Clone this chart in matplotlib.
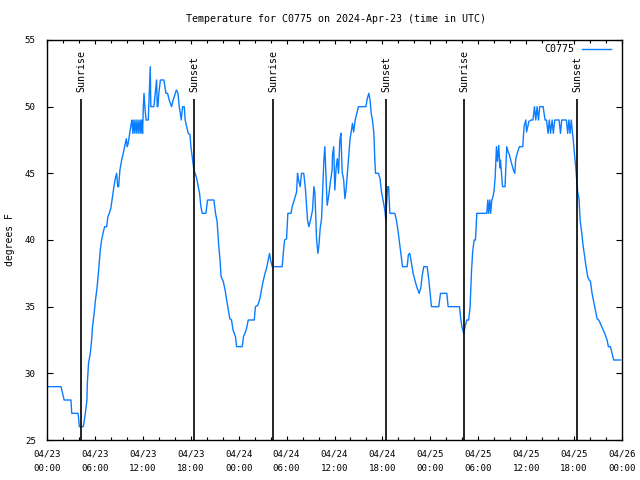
import matplotlib
matplotlib.use("Agg")
import matplotlib.pyplot as plt
from matplotlib.ticker import FixedLocator, MultipleLocator

# hours since 2024-04-23 00:00 UTC, temperature in F
hours = [
    0, 1.75, 2.15, 3.0, 3.1, 3.9, 4.05, 4.55, 4.8, 5.0, 5.05, 5.2, 5.42, 5.59, 5.7,
    5.92, 6.05, 6.26, 6.42, 6.55, 6.67, 6.84, 7.05, 7.22, 7.47, 7.63, 7.8, 8.0, 8.2,
    8.38, 8.55, 8.72, 8.85, 8.97, 9.13, 9.35, 9.51, 9.72, 9.93, 10.05, 10.15, 10.35,
    10.55, 10.65, 10.75, 10.9, 11.0, 11.15, 11.25, 11.4, 11.5, 11.65, 11.75, 11.85,
    11.97, 12.06, 12.15, 12.25, 12.4, 12.68, 12.8, 12.93, 13.0, 13.39, 13.55, 13.72,
    13.8, 13.89, 14.0, 14.2, 14.64, 14.89, 15.1, 15.3, 15.6, 15.8, 16.2, 16.4, 16.56,
    16.7, 16.8, 16.98, 17.19, 17.3, 17.45, 17.69, 17.9, 18.02, 18.23, 18.4, 18.6,
    18.75, 18.94, 19.1, 19.27, 19.44, 19.9, 20.1, 20.9, 21.1, 21.3, 21.5, 21.65, 21.8,
    22.07, 22.3, 22.5, 22.7, 22.9, 23.1, 23.3, 23.6, 23.74, 24.45, 24.6, 24.78, 25.0,
    25.2, 25.95, 26.1, 26.4, 26.66, 26.85, 27.06, 27.3, 27.5, 27.7, 27.87, 28.0, 28.2,
    29.45, 29.6, 29.75, 30.0, 30.16, 30.55, 30.7, 30.96, 31.25, 31.37, 31.5, 31.7,
    31.87, 32.15, 32.37, 32.62, 32.79, 33.0, 33.25, 33.42, 33.55, 33.75, 33.92, 34.05,
    34.21, 34.38, 34.54, 34.67, 34.79, 34.92, 35.08, 35.3, 35.45, 35.63, 35.7, 35.75,
    35.9, 36.04, 36.2, 36.35, 36.5, 36.67, 36.8, 36.96, 37.15, 37.3, 37.45, 37.6,
    37.76, 37.95, 38.13, 38.25, 38.4, 38.59, 38.75, 39.0, 39.93, 40.1, 40.3, 40.45,
    40.6, 40.75, 40.93, 41.05, 41.14, 41.51, 41.7, 41.89, 42.1, 42.3, 42.43, 42.5,
    42.65, 42.78, 42.93, 43.55, 43.75, 43.97, 44.2, 44.39, 44.52, 45.1, 45.25, 45.43,
    45.6, 45.85, 46.1, 46.35, 46.6, 46.8, 47.0, 47.18, 47.6, 47.81, 47.98, 48.14,
    49.06, 49.27, 50.06, 50.23, 51.65, 51.81, 51.95, 52.19, 52.35, 52.57, 52.8, 52.98,
    53.15, 53.3, 53.48, 53.65, 53.82, 55.07, 55.2, 55.3, 55.45, 55.55, 55.7, 55.85,
    55.99, 56.12, 56.28, 56.4, 56.57, 56.7, 56.78, 56.91, 57.04, 57.35, 57.57, 57.75,
    57.9, 58.1, 58.4, 58.57, 58.7, 58.88, 59.15, 59.57, 59.74, 59.95, 60.05, 60.2,
    60.35, 60.62, 60.85, 61.04, 61.2, 61.37, 61.54, 61.7, 62.12, 62.37, 62.55, 62.74,
    62.9, 63.05, 63.25, 63.4, 63.58, 64.12, 64.3, 64.45, 65.04, 65.2, 65.35, 65.5,
    65.65, 65.8, 65.9, 66.04, 66.2, 66.33, 66.45, 66.62, 66.75, 66.95, 67.12, 67.33,
    67.5, 67.71, 67.88, 68.05, 68.25, 68.45, 68.67, 68.88, 69.08, 69.25, 69.46, 69.84,
    70.13, 70.3, 70.55, 70.75, 70.96, 71.8,
]
temps = [
    29, 29, 28, 28, 27, 27, 26, 26, 27, 28, 29.25, 30.75, 31.5, 32.5, 33.5,
    34.6, 35.4, 36.4, 37.4, 38.4, 39.25, 40, 40.6, 41, 41, 41.75, 42, 42.4, 43.25,
    44, 44.6, 45, 44, 44, 45.25, 46, 46.4, 47, 47.6, 47, 47.2, 48,
    48.75, 49, 48, 49, 48, 49, 48, 49, 48, 49, 48, 49,
    48, 50, 51, 50, 49, 49, 51, 53, 50, 50, 51, 52,
    50, 50, 51, 52, 52, 51, 51, 50.5, 50, 50.5, 51.25, 51, 50,
    49.5, 49, 50, 50, 49, 48.6, 48, 47.9, 47, 46, 45.25, 44.9,
    44.6, 44, 43.5, 42.5, 42, 42, 43, 43, 42, 41.4, 39.6, 38.6, 37.25,
    36.9, 36.25, 35.5, 34.75, 34.1, 34, 33.25, 32.75, 32, 32, 32.75, 33, 33.4,
    34, 34, 35, 35.1, 35.6, 36.25, 36.9, 37.5, 37.9, 38.5, 39, 38.5, 38,
    38, 39.1, 40, 40.1, 42, 42, 42.5, 43, 43.6, 45, 44.5, 44,
    45, 45, 43.75, 41.5, 41, 41.5, 42.25, 44, 43.5, 40.1, 39, 39.6,
    40.9, 41.6, 44, 46, 47, 45.1, 42.6, 43.4, 44.2, 45, 45.25, 46.4,
    47, 43.75, 45.4, 46.1, 45, 47.5, 48, 45.1, 44.5, 43.1, 43.75, 44.9,
    46.1, 47.6, 48.25, 48.75, 48.1, 49, 49.4, 50, 50, 50.6, 51, 50.5,
    49.5, 49, 48, 46, 45, 45, 44.6, 43.6, 42.9, 42.25, 41.5, 42.5,
    44, 44, 42, 42, 41.5, 40.6, 39.5, 38.6, 38, 38, 38.9, 39,
    38.4, 37.5, 36.9, 36.4, 36, 36.4, 37.4, 38, 38, 37, 36, 35,
    35, 36, 36, 35, 35, 34.1, 33.5, 33, 33.5, 34, 34, 35,
    37.6, 39.1, 40, 40, 42, 42, 43, 42, 43, 42, 43, 43.25,
    43.75, 44.75, 47, 45.9, 47.1, 45.4, 46, 45, 44, 44, 47, 46.6,
    46.4, 45.9, 45.25, 45, 46.1, 46.5, 47, 47, 48.5, 49, 48.1, 48.5,
    48.9, 49, 49, 50, 49, 50, 49, 50, 50, 49, 49, 48,
    49, 48, 49, 48, 49, 49, 48, 49, 49, 48, 49, 48,
    49, 48, 47.5, 46.5, 45.5, 44.5, 43.6, 43.1, 41.5, 40.6, 39.6, 38.75,
    38, 37.25, 37, 36.9, 36, 35.4, 34.75, 34.1, 34, 33.8, 33.5, 33,
    32.5, 32, 32, 31.5, 31, 31,
]

sun_hours = [4.3, 18.45, 28.3, 42.47, 52.24, 66.4]
sun_labels = ["Sunrise", "Sunset", "Sunrise", "Sunset", "Sunrise", "Sunset"]

tick_hours = [0, 6, 12, 18, 24, 30, 36, 42, 48, 54, 60, 66, 72]
tick_labels = ["04/23\n00:00", "04/23\n06:00", "04/23\n12:00", "04/23\n18:00",
               "04/24\n00:00", "04/24\n06:00", "04/24\n12:00", "04/24\n18:00",
               "04/25\n00:00", "04/25\n06:00", "04/25\n12:00", "04/25\n18:00",
               "04/26\n00:00"]
y_ticks = [25, 30, 35, 40, 45, 50, 55]

plt.rcParams["font.family"] = ["DejaVu Sans Mono"]

fig = plt.figure(figsize=(6.4, 4.8), dpi=100)
ax = fig.add_axes([47 / 640, 40 / 480, 575 / 640, 400 / 480])

ax.plot(hours, temps, color="#0a7cff", lw=1.0, label="C0775")

ax.vlines(sun_hours, 25, 50.6, color="black", lw=1.2)
for h, lab in zip(sun_hours, sun_labels):
    ax.text(h, 51.1, lab, rotation=90, ha="center", va="bottom", fontsize=7.2)

ax.set_xlim(0, 72)
ax.set_ylim(25, 55)
ax.xaxis.set_major_locator(FixedLocator(tick_hours))
ax.set_xticklabels(tick_labels, linespacing=1.75)
ax.xaxis.set_minor_locator(MultipleLocator(2))
ax.set_yticks(y_ticks)

ax.tick_params(axis="both", which="major", direction="in", top=True, right=True,
               labelsize=6.6, width=0.8)
ax.tick_params(axis="x", which="major", length=3, pad=7)
ax.tick_params(axis="x", which="minor", direction="in", top=True, length=2.5, width=0.8)
ax.tick_params(axis="y", which="major", length=4.5, pad=8)
for s in ax.spines.values():
    s.set_linewidth(1.0)

fig.text(10 / 640, 0.5, "degrees F", rotation=90, ha="center", va="center",
         fontsize=7.0)
fig.text(336 / 640, 1 - 19 / 480, "Temperature for C0775 on 2024-Apr-23 (time in UTC)",
         ha="center", va="center", fontsize=7.2)

ax.legend(loc="upper right", bbox_to_anchor=(611 / 640, 1 - 44 / 480),
          bbox_transform=fig.transFigure, frameon=False, markerfirst=False,
          handlelength=2.9, handletextpad=0.8, borderpad=0, borderaxespad=0,
          fontsize=7.2)

fig.savefig("out.png", dpi=100)
